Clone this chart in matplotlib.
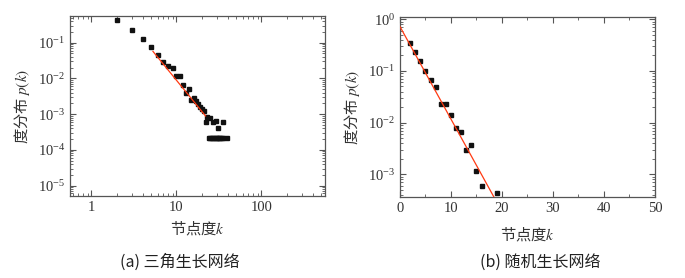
import matplotlib
matplotlib.use("Agg")
import matplotlib.pyplot as plt
from matplotlib.ticker import LogLocator, MultipleLocator, NullFormatter

plt.rcParams['font.family'] = ['Liberation Serif', 'Noto Sans CJK SC', 'DejaVu Sans']
plt.rcParams['mathtext.fontset'] = 'stix'

# (a) triangle growth network
k_a = [2, 3, 4, 5, 6, 7, 8, 9, 10, 11, 12, 13, 14, 15, 16, 17, 18, 19, 20, 21,
       22, 23, 25, 27, 29, 31, 35,
       24, 25, 26, 27, 28, 29, 30, 31, 32, 33, 34, 35, 39]
p_a = [0.43, 0.22, 0.127, 0.077, 0.046, 0.029, 0.022, 0.020, 0.0117, 0.012,
       0.0067, 0.004, 0.005, 0.0025, 0.0028, 0.0023, 0.0019, 0.0016, 0.0014, 0.0012,
       6.0e-4, 8.5e-4, 8.0e-4, 6.0e-4, 6.3e-4, 4.2e-4, 6.0e-4,
       2.1e-4, 2.1e-4, 2.1e-4, 2.1e-4, 2.1e-4, 2.1e-4, 2.1e-4, 2.1e-4, 2.1e-4, 2.1e-4,
       2.1e-4, 2.1e-4, 2.1e-4]
fit_k_a = [5.3, 22.0]
fit_p_a = [0.057, 8.9e-4]

# (b) random growth network
k_b = [2, 3, 4, 5, 6, 7, 8, 9, 10, 11, 12, 13, 14, 15, 16, 19]
p_b = [0.34, 0.23, 0.158, 0.10, 0.067, 0.048, 0.0227, 0.0227, 0.0141, 0.008,
       0.0066, 0.0029, 0.0037, 0.00117, 6.0e-4, 4.3e-4]
fit_k_b = [0.0, 20.0]
fit_p_b = [0.72, 1.9e-4]

xticks_a = [1, 10, 100]
xticklabels_a = ['1', '10', '100']
yticks_a = [1e-5, 1e-4, 1e-3, 1e-2, 1e-1]
xticks_b = [0, 10, 20, 30, 40, 50]
yticks_b = [1e-3, 1e-2, 1e-1, 1e0]

captions = ['(a) 三角生长网络', '(b) 随机生长网络']
ylabel = '度分布 $p(k)$'
xlabel = '节点度$k$'

fig = plt.figure(figsize=(6.85, 2.78), dpi=100)
ax1 = fig.add_axes([0.1022, 0.295, 0.3723, 0.6475])
ax2 = fig.add_axes([0.5839, 0.2925, 0.3723, 0.6446])

frame_col = '#555555'
red = '#ff3a12'
cjk = ['Noto Sans CJK SC', 'DejaVu Sans']

def style(ax):
    for s in ax.spines.values():
        s.set_color(frame_col)
        s.set_linewidth(0.9)
    ax.tick_params(which='both', direction='in', top=True, right=True,
                   colors=frame_col, labelcolor='#333333', labelsize=10.5)
    ax.tick_params(which='major', length=4, width=0.8)
    ax.tick_params(which='minor', length=2, width=0.6)

# panel (a)
ax1.set_xscale('log')
ax1.set_yscale('log')
ax1.plot(fit_k_a, fit_p_a, color=red, lw=0.9, zorder=3)
ax1.plot(k_a, p_a, 's', color='#111111', ms=3.1, zorder=2)
ax1.set_xlim(0.56, 560)
ax1.set_ylim(5.1e-6, 0.56)
ax1.set_xticks(xticks_a)
ax1.set_xticklabels(xticklabels_a)
ax1.xaxis.set_minor_locator(LogLocator(base=10, subs=range(2, 10), numticks=20))
ax1.xaxis.set_minor_formatter(NullFormatter())
ax1.set_yticks(yticks_a)
ax1.yaxis.set_minor_locator(LogLocator(base=10, subs=range(2, 10), numticks=20))
ax1.yaxis.set_minor_formatter(NullFormatter())
style(ax1)
ax1.set_ylabel(ylabel, fontsize=11, color='#333333', labelpad=4, family=cjk)
ax1.set_xlabel(xlabel, fontsize=11, color='#333333', labelpad=4, family=cjk)

# panel (b)
ax2.set_yscale('log')
ax2.plot(fit_k_b, fit_p_b, color=red, lw=0.9, zorder=3)
ax2.plot(k_b, p_b, 's', color='#111111', ms=3.1, zorder=2)
ax2.set_xlim(0, 50)
ax2.set_ylim(3.7e-4, 1.08)
ax2.set_xticks(xticks_b)
ax2.xaxis.set_minor_locator(MultipleLocator(5))
ax2.set_yticks(yticks_b)
ax2.yaxis.set_minor_locator(LogLocator(base=10, subs=range(2, 10), numticks=20))
ax2.yaxis.set_minor_formatter(NullFormatter())
style(ax2)
ax2.set_ylabel(ylabel, fontsize=11, color='#333333', labelpad=4, family=cjk)
ax2.set_xlabel(xlabel, fontsize=11, color='#333333', labelpad=8, family=cjk)

fig.text(180 / 685, 1 - 262 / 278, captions[0], ha='center', va='center',
         fontsize=11.5, family=cjk, weight='medium', color='#222222')
fig.text(540 / 685, 1 - 262 / 278, captions[1], ha='center', va='center',
         fontsize=11.5, family=cjk, weight='medium', color='#222222')

fig.savefig('out.png', dpi=100)
